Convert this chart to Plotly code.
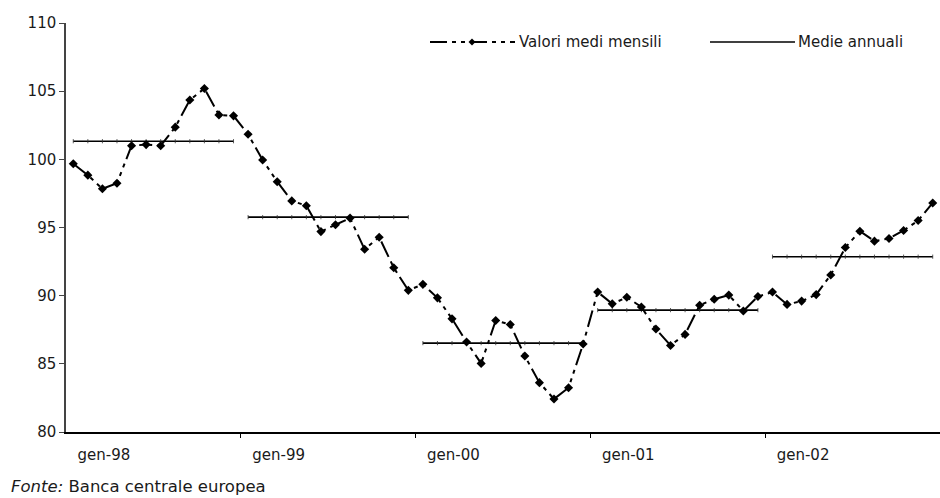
import plotly.graph_objects as go

# Monthly average values, Jan 1998 - Dec 2002
years = ["98", "99", "00", "01", "02"]
monthly_1998 = [99.68, 98.84, 97.84, 98.25, 101.00, 101.08, 101.00, 102.36, 104.35, 105.20, 103.26, 103.19]
monthly_1999 = [101.84, 99.95, 98.36, 96.95, 96.60, 94.70, 95.20, 95.69, 93.40, 94.29, 92.05, 90.39]
monthly_2000 = [90.83, 89.84, 88.30, 86.60, 85.03, 88.18, 87.88, 85.57, 83.62, 82.42, 83.25, 86.45]
monthly_2001 = [90.27, 89.40, 89.88, 89.17, 87.55, 86.35, 87.16, 89.30, 89.74, 90.04, 88.88, 89.94]
monthly_2002 = [90.27, 89.36, 89.60, 90.08, 91.52, 93.53, 94.73, 94.00, 94.19, 94.78, 95.51, 96.80]

# Annual averages
annual_means = [101.33, 95.76, 86.52, 88.94, 92.86]

x_tick_labels = ["gen-" + y for y in years]
y_ticks = [80, 85, 90, 95, 100, 105, 110]

monthly = monthly_1998 + monthly_1999 + monthly_2000 + monthly_2001 + monthly_2002
months_idx = list(range(len(monthly)))

FONT = "DejaVu Sans"
TXT = "#1a1a1a"
DASH = "17px,5px,4px,5px,4px,5px"

fig = go.Figure()

# Annual average segments, one per year
for k, m in enumerate(annual_means):
    xs = list(range(12 * k, 12 * k + 12))
    fig.add_trace(go.Scatter(
        x=xs, y=[m] * 12, mode="lines+markers",
        line=dict(color="black", width=1.6),
        marker=dict(symbol="line-ns", size=3, line=dict(color="#333", width=0.8)),
        showlegend=False, hoverinfo="skip",
    ))

# Monthly series
fig.add_trace(go.Scatter(
    x=months_idx, y=monthly, mode="lines+markers",
    line=dict(color="black", width=2, dash=DASH),
    marker=dict(symbol="diamond", size=7, color="black"),
    showlegend=False,
))

# Plot area geometry (pixels) for the hand-drawn legend
L, R, T, B = 66, 940, 23, 432
W, H = R - L, B - T


def px(xp):
    return (xp - L) / W


def py(yp):
    return (B - yp) / H


ly = 42
shapes = [
    dict(type="line", xref="paper", yref="paper", x0=px(430), x1=px(515), y0=py(ly), y1=py(ly),
         line=dict(color="black", width=2, dash=DASH)),
    dict(type="path", xref="paper", yref="paper",
         path=f"M {px(472 - 3.5)} {py(ly)} L {px(472)} {py(ly - 3.5)} L {px(472 + 3.5)} {py(ly)} "
              f"L {px(472)} {py(ly + 3.5)} Z",
         fillcolor="black", line=dict(color="black", width=0)),
    dict(type="line", xref="paper", yref="paper", x0=px(710), x1=px(795), y0=py(ly), y1=py(ly),
         line=dict(color="black", width=1.6)),
]

annotations = [
    dict(xref="paper", yref="paper", x=px(517), y=py(ly), xanchor="left", yanchor="middle",
         text="Valori medi mensili", showarrow=False, font=dict(family=FONT, size=15, color=TXT)),
    dict(xref="paper", yref="paper", x=px(796), y=py(ly), xanchor="left", yanchor="middle",
         text="Medie annuali", showarrow=False, font=dict(family=FONT, size=15, color=TXT)),
    dict(xref="paper", yref="paper", x=px(9), y=py(487), xanchor="left", yanchor="middle",
         text="<i>Fonte:</i> Banca centrale europea", showarrow=False,
         font=dict(family=FONT, size=16.5, color=TXT)),
]

fig.update_layout(
    width=940, height=498,
    margin=dict(l=L, r=940 - R, t=T, b=498 - B, pad=0),
    paper_bgcolor="white", plot_bgcolor="white",
    font=dict(family=FONT, size=15, color=TXT),
    shapes=shapes, annotations=annotations,
    showlegend=False,
)

fig.update_xaxes(
    range=[-0.5, len(monthly) - 0.5],
    tickmode="array",
    tickvals=[12 * k + 2.1 for k in range(len(years))],
    ticktext=x_tick_labels,
    ticks="", ticklabelstandoff=8,
    showline=True, linecolor="black", linewidth=1.5,
    showgrid=False, zeroline=False,
    minor=dict(tickmode="array", tickvals=[12 * k - 0.5 for k in range(1, len(years))],
               ticks="outside", ticklen=4, tickcolor="black", tickwidth=1.2, showgrid=False),
    tickfont=dict(family=FONT, size=15, color=TXT),
)

fig.update_yaxes(
    range=[80, 110],
    tickmode="array", tickvals=y_ticks,
    ticks="outside", ticklen=5, tickcolor="#444", tickwidth=1.2,
    showline=True, linecolor="#444", linewidth=1.5,
    showgrid=False, zeroline=False,
    tickfont=dict(family=FONT, size=15, color=TXT),
)

fig.write_html("out.html")
